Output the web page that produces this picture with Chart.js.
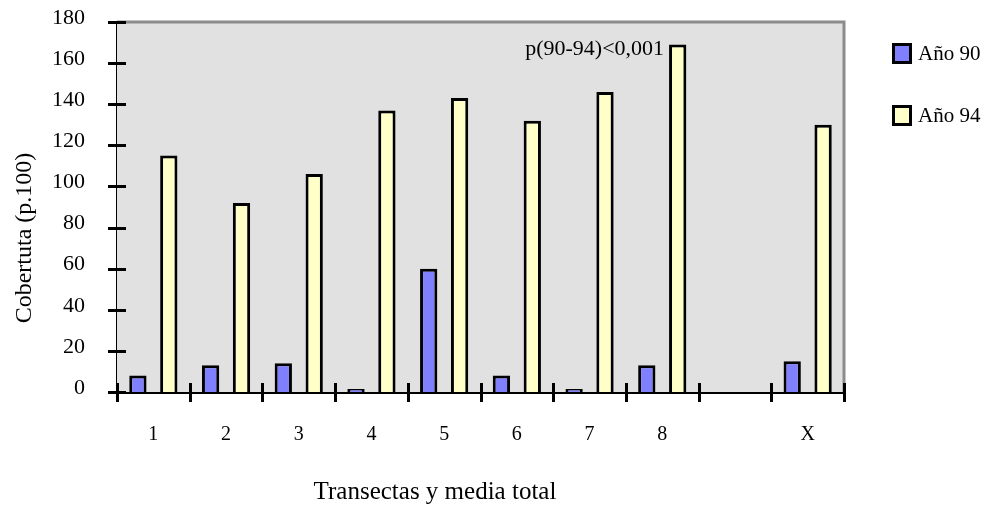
<!DOCTYPE html>
<html>
<head>
<meta charset="utf-8">
<script src="https://cdn.jsdelivr.net/npm/chart.js@4.4.1/dist/chart.umd.min.js"></script>
<style>
  html, body { margin: 0; padding: 0; background: #fff; }
  #wrap { width: 992px; height: 507px; }
</style>
</head>
<body>
<div id="wrap"><canvas id="chart" width="992" height="507"></canvas></div>
<script>
// Data
const categories = ['1', '2', '3', '4', '5', '6', '7', '8', '', 'X'];
const year90 = [8, 13, 14, 1.5, 60, 8, 1.5, 13, null, 15];
const year94 = [115, 92, 106, 137, 143, 132, 146, 169, null, 130];
const yTicks = [0, 20, 40, 60, 80, 100, 120, 140, 160, 180];
const seriesNames = ['Año 90', 'Año 94'];
const noteText = 'p(90-94)<0,001';
const xTitle = 'Transectas y media total';
const yTitle = 'Cobertuta (p.100)';

const serif = '"Liberation Serif", "Times New Roman", serif';

// Grey plot background, grey top/right frame, crossing tick marks, titles, legend
const framePlugin = {
  id: 'frame',
  beforeDatasetsDraw(chart) {
    const { ctx, chartArea: a } = chart;
    ctx.save();
    ctx.fillStyle = '#e1e1e1';
    ctx.fillRect(a.left, a.top, a.right - a.left, a.bottom - a.top);
    ctx.strokeStyle = '#8c8c8c';
    ctx.lineWidth = 3;
    ctx.beginPath();
    ctx.moveTo(a.left, a.top);
    ctx.lineTo(a.right, a.top);
    ctx.lineTo(a.right, a.bottom);
    ctx.stroke();
    ctx.restore();
  },
  afterDraw(chart) {
    const { ctx, chartArea: a, scales } = chart;
    ctx.save();
    ctx.strokeStyle = '#000';
    ctx.lineWidth = 3;
    ctx.beginPath();
    yTicks.forEach(v => {
      const y = Math.round(scales.y.getPixelForValue(v)) + 0.5;
      ctx.moveTo(a.left - 9, y);
      ctx.lineTo(a.left + 9, y);
    });
    const step = (a.right - a.left) / categories.length;
    for (let i = 0; i <= categories.length; i++) {
      const x = Math.round(a.left + i * step) + 0.5;
      ctx.moveTo(x, a.bottom - 9);
      ctx.lineTo(x, a.bottom + 10);
    }
    ctx.stroke();

    ctx.fillStyle = '#000';

    // significance note next to the tallest bar
    const bar = chart.getDatasetMeta(1).data[7];
    ctx.font = '22px ' + serif;
    ctx.textAlign = 'right';
    ctx.textBaseline = 'middle';
    ctx.fillText(noteText, bar.x - bar.width / 2 - 5, bar.y + 5);

    // axis titles
    ctx.font = '25px ' + serif;
    ctx.textAlign = 'center';
    ctx.textBaseline = 'alphabetic';
    ctx.fillText(xTitle, 435, 499);
    ctx.save();
    ctx.translate(31, 238);
    ctx.rotate(-Math.PI / 2);
    ctx.font = '24px ' + serif;
    ctx.fillText(yTitle, 0, 0);
    ctx.restore();

    // legend
    ctx.font = '21px ' + serif;
    ctx.textAlign = 'left';
    ctx.textBaseline = 'middle';
    chart.data.datasets.forEach((ds, i) => {
      const top = 44 + i * 62;
      ctx.fillStyle = ds.backgroundColor;
      ctx.fillRect(893, top, 18, 19);
      ctx.lineWidth = 3;
      ctx.strokeStyle = '#000';
      ctx.strokeRect(893.5, top + 0.5, 17, 18);
      ctx.fillStyle = '#000';
      ctx.fillText(ds.label, 918, top + 10);
    });
    ctx.restore();
  }
};

new Chart(document.getElementById('chart'), {
  type: 'bar',
  data: {
    labels: categories,
    datasets: [
      {
        label: seriesNames[0],
        data: year90,
        backgroundColor: '#8080ff',
        borderColor: '#000',
        borderWidth: 3
      },
      {
        label: seriesNames[1],
        data: year94,
        backgroundColor: '#ffffc8',
        borderColor: '#000',
        borderWidth: 3
      }
    ]
  },
  options: {
    responsive: false,
    animation: false,
    categoryPercentage: 0.85,
    barPercentage: 0.56,
    layout: { padding: { top: 22, right: 148, left: 0, bottom: 0 } },
    plugins: {
      legend: { display: false },
      tooltip: { enabled: false }
    },
    scales: {
      x: {
        grid: { display: false, drawTicks: false },
        border: { color: '#000', width: 3 },
        ticks: { color: '#000', padding: 31, font: { family: serif, size: 20 } },
        afterFit(scale) {
          scale.height = 115;
          scale.paddingLeft = 0;
          scale.paddingRight = 0;
        }
      },
      y: {
        min: 0,
        max: 180,
        grid: { display: false, drawTicks: false },
        border: { color: '#000', width: 3 },
        afterBuildTicks(scale) { scale.ticks = yTicks.map(v => ({ value: v })); },
        ticks: { color: '#000', padding: 32, labelOffset: -4, font: { family: serif, size: 22 } },
        afterFit(scale) {
          scale.width = 117;
          scale.paddingTop = 0;
          scale.paddingBottom = 0;
        }
      }
    }
  },
  plugins: [framePlugin]
});
</script>
</body>
</html>
